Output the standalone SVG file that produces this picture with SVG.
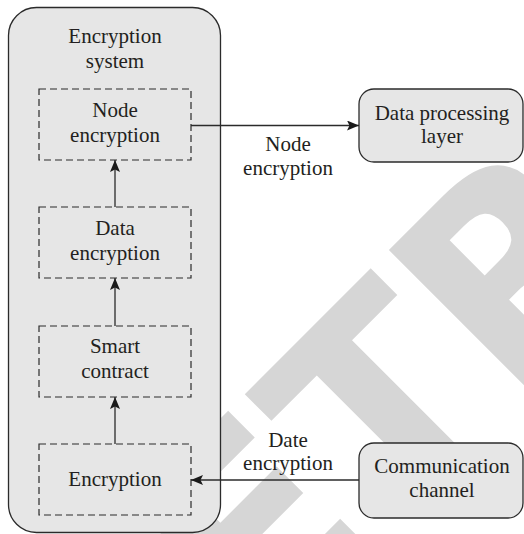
<svg xmlns="http://www.w3.org/2000/svg" width="524" height="534" viewBox="0 0 524 534">
  <defs>
    <style>
      .lbl { font-family: "Liberation Serif", "Times New Roman", serif; font-size: 21px; fill: #231f20; text-anchor: middle; }
      .panel { fill: #e6e6e6; stroke: #2b2b2b; stroke-width: 1.3; }
      .step { fill: none; stroke: #2b2b2b; stroke-width: 1.2; stroke-dasharray: 7 4; }
      .wire { fill: none; stroke: #2b2b2b; stroke-width: 1.3; }
      .mark { font-family: "DejaVu Sans", "Liberation Sans", sans-serif; font-weight: bold; font-size: 265px; fill: #d6d6d6; }
    </style>
    <marker id="head" viewBox="0 0 12 10" refX="12" refY="5" markerWidth="12" markerHeight="10" markerUnits="userSpaceOnUse" orient="auto">
      <path d="M0,0 L12,5 L0,10 L2.5,5 Z" fill="#1a1a1a"/>
    </marker>
  </defs>

  <rect width="524" height="534" fill="#ffffff"/>

  <!-- background stamp -->
  <text class="mark" transform="rotate(-45)" x="-492" y="645">RETRACTED</text>

  <!-- outer system panel -->
  <g id="encryption-system">
    <rect class="panel" x="8.5" y="7.5" width="212" height="525" rx="28"/>
    <text class="lbl" x="115" y="43">Encryption</text>
    <text class="lbl" x="115" y="68">system</text>
  </g>

  <g id="node-encryption">
    <rect class="step" x="39" y="89" width="152" height="71"/>
    <text class="lbl" x="115" y="117">Node</text>
    <text class="lbl" x="115" y="142">encryption</text>
  </g>

  <g id="data-encryption">
    <rect class="step" x="39" y="207" width="152" height="71"/>
    <text class="lbl" x="115" y="235">Data</text>
    <text class="lbl" x="115" y="260">encryption</text>
  </g>

  <g id="smart-contract">
    <rect class="step" x="39" y="326" width="152" height="71"/>
    <text class="lbl" x="115" y="353">Smart</text>
    <text class="lbl" x="115" y="378">contract</text>
  </g>

  <g id="encryption">
    <rect class="step" x="39" y="444" width="152" height="71"/>
    <text class="lbl" x="115" y="486">Encryption</text>
  </g>

  <g id="data-processing-layer">
    <rect class="panel" x="359" y="89" width="164" height="73" rx="15"/>
    <text class="lbl" x="442" y="120">Data processing</text>
    <text class="lbl" x="442" y="143">layer</text>
  </g>

  <g id="communication-channel">
    <rect class="panel" x="359" y="443" width="164" height="75" rx="15"/>
    <text class="lbl" x="442" y="473">Communication</text>
    <text class="lbl" x="442" y="497">channel</text>
  </g>

  <!-- connectors -->
  <g id="connectors">
    <line class="wire" x1="115" y1="207" x2="115" y2="160" marker-end="url(#head)"/>
    <line class="wire" x1="115" y1="326" x2="115" y2="278" marker-end="url(#head)"/>
    <line class="wire" x1="115" y1="444" x2="115" y2="397" marker-end="url(#head)"/>
    <line class="wire" x1="191" y1="125.5" x2="359" y2="125.5" marker-end="url(#head)"/>
    <line class="wire" x1="359" y1="480" x2="191" y2="480" marker-end="url(#head)"/>
    <text class="lbl" x="288" y="151">Node</text>
    <text class="lbl" x="288" y="175">encryption</text>
    <text class="lbl" x="288" y="447">Date</text>
    <text class="lbl" x="288" y="470">encryption</text>
  </g>
</svg>
